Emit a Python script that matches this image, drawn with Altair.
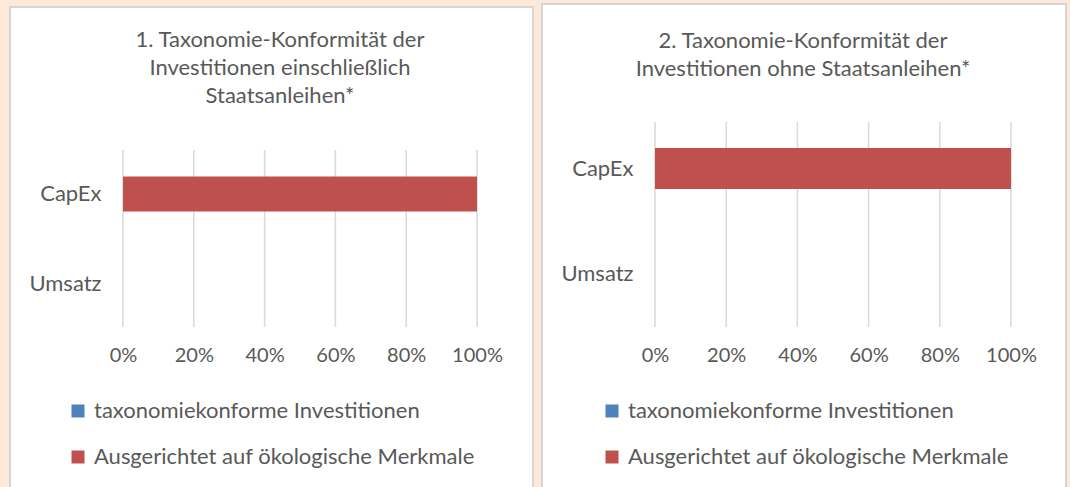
import altair as alt
import pandas as pd

# ---------------- data ----------------
categories = ["CapEx", "Umsatz"]
series_names = ["taxonomiekonforme Investitionen", "Ausgerichtet auf ökologische Merkmale"]
series_colors = ["#4f81bd", "#c0504d"]

p1_taxo = [0.0, 0.0]
p1_oeko = [1.0, 0.0]
p2_taxo = [0.0, 0.0]
p2_oeko = [1.0, 0.0]

x_ticks = [0.0, 0.2, 0.4, 0.6, 0.8, 1.0]

title1 = ["1. Taxonomie-Konformität der", "Investitionen einschließlich", "Staatsanleihen*"]
title2 = ["2. Taxonomie-Konformität der", "Investitionen ohne Staatsanleihen*"]

# ---------------- style ----------------
FONT = "Lato"
GRAY = "#595959"
PEACH = "#fde9d9"
BORDER = "#d6d6d6"
GRID = "#d9d9d9"
H = 205  # common plot height (both plot areas share the same top)


def long_df(taxo, oeko):
    rows = []
    for i, c in enumerate(categories):
        rows.append({"cat": c, "series": series_names[0], "idx": 0, "value": taxo[i]})
        rows.append({"cat": c, "series": series_names[1], "idx": 1, "value": oeko[i]})
    return pd.DataFrame(rows)


def x_axis():
    return alt.Axis(
        title=None, ticks=False, domain=False, grid=False, values=x_ticks,
        format=".0%", labelFont=FONT, labelFontSize=20, labelColor=GRAY,
        labelPadding=18, labelFlush=False, zindex=1,
    )


def panel(df, title, W, grid_top, band_range, bar_size, box, frame,
          legend_xy, title_dx, title_offset):
    one = pd.DataFrame({"a": [0]})
    fx1, fx2, fy1, fy2 = frame
    bx1, bx2, by1 = box

    bg = alt.Chart(one).mark_rect(color=PEACH, strokeWidth=0).encode(
        x=alt.value(fx1), x2=alt.value(fx2), y=alt.value(fy1), y2=alt.value(fy2)
    )
    white = alt.Chart(one).mark_rect(color="white", strokeWidth=0).encode(
        x=alt.value(bx1), x2=alt.value(bx2), y=alt.value(by1), y2=alt.value(fy2)
    )
    left_b = alt.Chart(one).mark_rule(color=BORDER, strokeWidth=2).encode(
        x=alt.value(bx1), y=alt.value(by1), y2=alt.value(fy2)
    )
    right_b = alt.Chart(one).mark_rule(color=BORDER, strokeWidth=2).encode(
        x=alt.value(bx2), y=alt.value(by1), y2=alt.value(fy2)
    )
    top_b = alt.Chart(one).mark_rule(color=BORDER, strokeWidth=2).encode(
        x=alt.value(bx1 - 1), x2=alt.value(bx2 + 1), y=alt.value(by1)
    )

    xscale = alt.Scale(domain=[0, 1], nice=False, zero=True)

    grid = alt.Chart(pd.DataFrame({"value": x_ticks})).mark_rule(color=GRID, strokeWidth=1.5).encode(
        x=alt.X("value:Q", scale=xscale, axis=x_axis()),
        y=alt.value(grid_top),
        y2=alt.value(H),
    )

    bars = alt.Chart(df).mark_bar(size=bar_size).encode(
        y=alt.Y(
            "cat:N",
            sort=categories,
            scale=alt.Scale(paddingInner=0, paddingOuter=0, range=band_range),
            axis=alt.Axis(
                title=None, ticks=False, domain=False, grid=False, zindex=1,
                labelFont=FONT, labelFontSize=22, labelColor=GRAY, labelPadding=22,
            ),
        ),
        x=alt.X("value:Q", stack="zero", scale=xscale, axis=x_axis()),
        color=alt.Color(
            "series:N",
            scale=alt.Scale(domain=series_names, range=series_colors),
            legend=alt.Legend(
                orient="none", legendX=legend_xy[0], legendY=legend_xy[1],
                direction="vertical", title=None, symbolType="square",
                symbolSize=169, symbolStrokeWidth=0, labelFont=FONT,
                labelFontSize=22, labelColor=GRAY, rowPadding=24,
                labelOffset=5, padding=0, labelLimit=600, zindex=1,
            ),
        ),
        order=alt.Order("idx:Q"),
    )

    return alt.layer(bg, white, left_b, right_b, top_b, grid, bars).properties(
        width=W,
        height=H,
        title=alt.TitleParams(
            text=title, font=FONT, fontSize=22, fontWeight="normal", color=GRAY,
            lineHeight=28, anchor="middle", offset=title_offset, dx=title_dx, zindex=1,
        ),
    )


# both plot areas have their origin at canvas y = 122
left = panel(
    long_df(p1_taxo, p1_oeko), title1, W=354, grid_top=28, band_range=[27, 207],
    bar_size=35,
    box=(-113, 410, -115), frame=(-123, 414, -122, 365),
    legend_xy=(-56, 278), title_dx=-20, title_offset=-108,
)
right = panel(
    long_df(p2_taxo, p2_oeko), title2, W=356, grid_top=0, band_range=[-6, 204],
    bar_size=41,
    box=(-113, 411, -118), frame=(-118, 415, -122, 365),
    legend_xy=(-54, 278), title_dx=-30, title_offset=-81,
)

chart = (
    alt.hconcat(left, right, spacing=0)
    .resolve_scale(x="independent", y="independent", color="independent")
    .resolve_legend(color="independent")
    .properties(padding=0, background=PEACH)
    .configure_view(stroke=None)
)

chart.save("out.html", embed_options={"renderer": "svg", "actions": False})
